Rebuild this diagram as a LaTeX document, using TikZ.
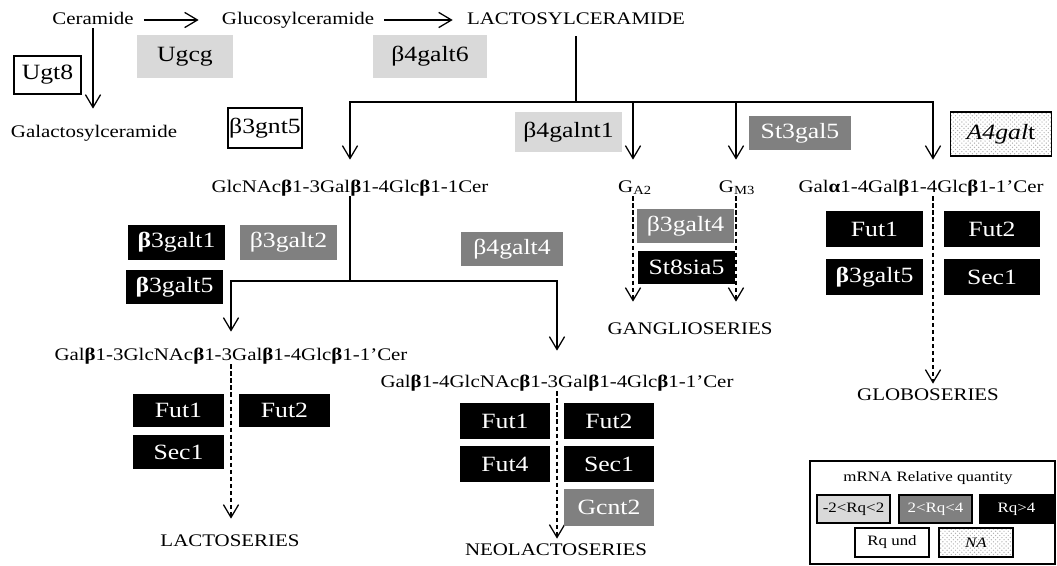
\documentclass[tikz,border=0pt]{standalone}
\usepackage{fontspec}
\setmainfont{Liberation Serif}[FakeStretch=1.18]
\usepackage{tikz}
\usetikzlibrary{arrows.meta, patterns}
\definecolor{rqlow}{HTML}{D9D9D9}
\definecolor{rqmid}{HTML}{808080}

\begin{document}
\begin{tikzpicture}[
    x=0.025cm, y=-0.025cm,
    txt/.style={font=\fontsize{12.6}{14}\selectfont, inner sep=0pt, text height=1.9ex, text depth=0.6ex},
    enz/.style={font=\fontsize{15.5}{17}\selectfont, inner sep=0pt},
    low/.style={enz, fill=rqlow},
    mid/.style={enz, fill=rqmid, text=white},
    high/.style={enz, fill=black, text=white},
    und/.style={enz, draw, line width=1pt, fill=white},
    na/.style={enz, draw, line width=1pt, pattern=crosshatch dots, pattern color=black!30},
    leg/.style={font=\fontsize{10.2}{12}\selectfont, inner sep=0pt, draw, line width=0.9pt, minimum height=7mm},
    arrow/.style={-{Straight Barb[length=3.2mm, width=3.8mm]}, line width=0.9pt},
    darrow/.style={arrow, dash pattern=on 3pt off 2pt},
    trunk/.style={line width=1.3pt}
]
\useasboundingbox (0,0) rectangle (1057,565);

% Ceramide to lactosylceramide
\node[txt] (cer) at (93,20) {Ceramide};
\node[txt] (glu) at (298,20) {Glucosylceramide};
\node[txt] (lacto) at (576,20) {LACTOSYLCERAMIDE};
\node[txt] (galcer) at (94,133) {Galactosylceramide};

\node[und, minimum width=16.75mm, minimum height=9.5mm] (ugt8) at (47.5,75) {Ugt8};
\node[low, minimum width=24mm, minimum height=10.75mm] (ugcg) at (185,56.5) {Ugcg};
\node[low, minimum width=28.5mm, minimum height=10.75mm] (b4galt6) at (430,56.5) {β4galt6};

\draw[arrow, shorten <=2.5mm, shorten >=5.75mm] (cer) -- (glu);
\draw[arrow, shorten <=2.5mm, shorten >=3.5mm] (glu) -- (lacto);
\draw[arrow, shorten >=4mm] (cer.south) -- (cer.south |- galcer.north);

% Branches from lactosylceramide
\coordinate (hub) at (576,102);
\node[txt] (glcnac) at (350,188) {GlcNAc\textbf{β}1-3Gal\textbf{β}1-4Glc\textbf{β}1-1Cer};
\node[txt] (ga2) at (635,188) {G\textsubscript{A2}};
\node[txt] (gm3) at (737,188) {G\textsubscript{M3}};
\node[txt] (gala) at (921,188) {Gal\textbf{α}1-4Gal\textbf{β}1-4Glc\textbf{β}1-1’Cer};

\draw[trunk, shorten <=2mm] (lacto.south) -- (hub);
\draw[arrow, shorten >=5mm] (hub) -| (glcnac.north);
\draw[arrow, shorten >=5mm] (hub) -| ([xshift=-0.5mm]ga2.north);
\draw[arrow, shorten >=5mm] (hub) -| ([xshift=-0.25mm]gm3.north);
\draw[arrow, shorten >=5mm] (hub) -| ([xshift=3mm]gala.north);

\node[und, minimum width=18.5mm, minimum height=10mm] (b3gnt5) at (265,128) {β3gnt5};
\node[low, minimum width=26.75mm, minimum height=10mm] (b4galnt1) at (568.5,132) {β4galnt1};
\node[mid, minimum width=25.5mm, minimum height=8.5mm] (st3gal5) at (800,133) {St3gal5};
\node[na, minimum width=25.25mm, minimum height=11mm] (a4galt) at (1001,134) {\textit{A4gal}t};

% Lacto and neolacto branch
\coordinate (hub2) at (350,281);
\node[txt] (lc) at (231,356) {Gal\textbf{β}1-3GlcNAc\textbf{β}1-3Gal\textbf{β}1-4Glc\textbf{β}1-1’Cer};
\node[txt] (nlc) at (557,383) {Gal\textbf{β}1-4GlcNAc\textbf{β}1-3Gal\textbf{β}1-4Glc\textbf{β}1-1’Cer};

\draw[trunk] (glcnac.south) -- (hub2);
\draw[arrow, shorten >=4mm] (hub2) -| (lc.north);
\draw[arrow, shorten >=6mm] (hub2) -| (nlc.north);

\node[high, minimum width=24.25mm, minimum height=8.75mm] (b3galt1) at (176.5,242.5) {\textbf{β}3galt1};
\node[mid, minimum width=24.25mm, minimum height=8.75mm] (b3galt2) at (288.5,242.5) {β3galt2};
\node[high, minimum width=24.25mm, minimum height=8.5mm] (b3galt5a) at (174.5,287) {\textbf{β}3galt5};
\node[mid, minimum width=25.5mm, minimum height=8.5mm] (b4galt4) at (512,249) {β4galt4};

% Series
\node[txt] (lacser) at (230,542) {LACTOSERIES};
\node[txt] (neoser) at (556,551) {NEOLACTOSERIES};
\node[txt] (gangser) at (690,330) {GANGLIOSERIES};
\node[txt] (globoser) at (928,396) {GLOBOSERIES};

\draw[darrow, shorten >=3.75mm] (lc.south) -- (lc.south |- lacser.north);
\draw[darrow, shorten >=1mm] (nlc.south) -- (nlc.south |- neoser.north);
\draw[darrow, shorten >=5mm] ([xshift=-0.5mm]ga2.south) -- ([xshift=-0.5mm]ga2.south |- gangser.north);
\draw[darrow, shorten >=5mm] ([xshift=-0.25mm]gm3.south) -- ([xshift=-0.25mm]gm3.south |- gangser.north);
\draw[darrow, shorten >=1mm] ([xshift=3mm]gala.south) -- ([xshift=3mm]gala.south |- globoser.north);

\node[mid, minimum width=24.25mm, minimum height=8.5mm] (b3galt4) at (685.5,226) {β3galt4};
\node[high, minimum width=24.25mm, minimum height=8.25mm] (st8sia5) at (686.5,267.5) {St8sia5};

\node[high, minimum width=24.25mm, minimum height=9mm] (gfut1) at (874.5,229) {Fut1};
\node[high, minimum width=24mm, minimum height=9mm] (gfut2) at (992,229) {Fut2};
\node[high, minimum width=24.25mm, minimum height=9mm] (gb3galt5) at (874.5,277) {\textbf{β}3galt5};
\node[high, minimum width=24mm, minimum height=9mm] (gsec1) at (992,277) {Sec1};

\node[high, minimum width=22.75mm, minimum height=8.25mm] (lfut1) at (178.5,410.5) {Fut1};
\node[high, minimum width=22.75mm, minimum height=8.25mm] (lfut2) at (284.5,410.5) {Fut2};
\node[high, minimum width=22.75mm, minimum height=8.5mm] (lsec1) at (178.5,452) {Sec1};

\node[high, minimum width=22.5mm, minimum height=9mm] (nfut1) at (505,421) {Fut1};
\node[high, minimum width=22.5mm, minimum height=9mm] (nfut2) at (609,421) {Fut2};
\node[high, minimum width=22.5mm, minimum height=9mm] (nfut4) at (505,464) {Fut4};
\node[high, minimum width=22.5mm, minimum height=9mm] (nsec1) at (609,464) {Sec1};
\node[mid, minimum width=22.5mm, minimum height=9.25mm] (gcnt2) at (609,507.5) {Gcnt2};

% Legend
\node[draw, line width=1pt, minimum width=61.25mm, minimum height=25.75mm] (legend) at (932.5,512.5) {};
\node[font=\fontsize{10.2}{12}\selectfont, inner sep=0pt] (legtitle) at (928,478) {mRNA Relative quantity};
\node[leg, fill=rqlow, minimum width=18.25mm] (leglow) at (853.5,509) {-2<Rq<2};
\node[leg, fill=rqmid, text=white, minimum width=18.25mm] (legmid) at (935.5,509) {2<Rq<4};
\node[leg, fill=black, text=white, minimum width=18.25mm] (leghigh) at (1016.5,509) {Rq>4};
\node[leg, fill=white, minimum width=18.5mm, minimum height=7.25mm] (legund) at (892,542.5) {Rq und};
\node[leg, pattern=crosshatch dots, pattern color=black!30, minimum width=18.5mm, minimum height=7.25mm] (legna) at (976,542.5) {\textit{NA}};

\end{tikzpicture}
\end{document}
